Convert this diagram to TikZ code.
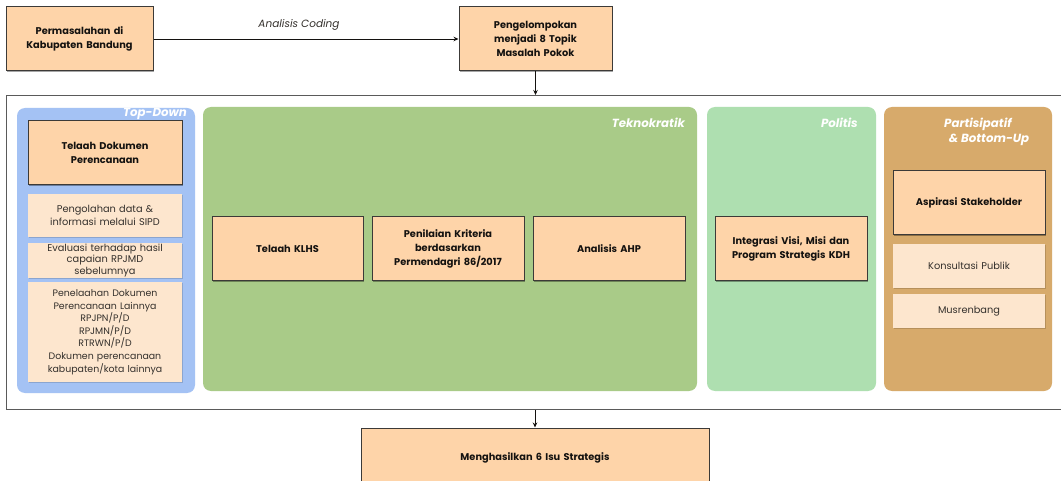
\documentclass[tikz,border=0pt]{standalone}
\usepackage{fontspec}
\setmainfont{Poppins}
\usetikzlibrary{shadows,arrows.meta}

\definecolor{peach}{HTML}{FED4A9}
\definecolor{lightpeach}{HTML}{FDE6CE}
\definecolor{edgegray}{HTML}{3C3A38}
\definecolor{framegray}{HTML}{5A5A5A}
\definecolor{tdblue}{HTML}{A4C2F4}
\definecolor{tkgreen}{HTML}{A9CB88}
\definecolor{plgreen}{HTML}{AEDFB0}
\definecolor{pttan}{HTML}{D7AA6B}
\definecolor{inkdark}{HTML}{141210}
\definecolor{inksoft}{HTML}{34302C}

\tikzset{
  mainbox/.style={draw=edgegray, line width=1pt, fill=peach, align=center,
    inner sep=2pt, text=inkdark,
    font=\fontsize{9.8}{13.8}\selectfont\bfseries,
    drop shadow={shadow xshift=1.3pt, shadow yshift=-1.3pt, fill=black, opacity=0.35}},
  subbox/.style={fill=lightpeach, align=center, inner sep=1pt, text=inksoft,
    font=\fontsize{9.8}{12.8}\selectfont,
    drop shadow={shadow xshift=1pt, shadow yshift=-1pt, fill=black, opacity=0.15}},
  panel/.style={rounded corners=8pt, draw=none},
  paneltitle/.style={text=white, font=\fontsize{11.8}{15}\selectfont\bfseries\itshape, inner sep=0pt},
  flowarrow/.style={-{Stealth[length=5pt,width=4.5pt]}, line width=0.8pt, draw=inkdark},
}

\begin{document}
\begin{tikzpicture}[x=1pt, y=-1pt]
\useasboundingbox (0,0) rectangle (1061,481);
\clip (0,0) rectangle (1061,481);
\fill[white] (0,0) rectangle (1061,481);

% top row
\node[mainbox, minimum width=147pt, minimum height=64pt, text width=140pt] (prob) at (79.5,39)
  {Permasalahan di\\Kabupaten Bandung};
\node[mainbox, minimum width=153pt, minimum height=64pt, text width=146pt] (group) at (535.5,39)
  {Pengelompokan\\menjadi 8 Topik\\Masalah Pokok};
\draw[flowarrow] (prob.east) -- (group.west)
  node[midway, above=5pt, xshift=-7pt, font=\fontsize{10.5}{13}\selectfont\itshape, text=inksoft] (coding) {Analisis Coding};

% enclosing frame (runs off the right edge)
\node[draw=framegray, line width=1.2pt, anchor=north west, minimum width=1080pt, minimum height=314pt, inner sep=0pt] (frame) at (6,95) {};
\draw[flowarrow] (group.south) -- (group.south |- frame.north);

% panels
\fill[panel, tdblue] (17,108) rectangle (195,393);
\fill[panel, tkgreen] (203,107) rectangle (697,391);
\fill[panel, plgreen] (707,107) rectangle (876,391);
\fill[panel, pttan] (884,107) rectangle (1052,391);

\node[paneltitle, anchor=east] (tdtitle) at (187,114) {Top-Down};
\node[paneltitle, anchor=east] (tktitle) at (685,123) {Teknokratik};
\node[paneltitle, anchor=east] (pltitle) at (858,123) {Politis};
\node[paneltitle, anchor=west, align=left] (pttitle) at (944,132) {Partisipatif\\\ \,\&\ Bottom-Up};

% Top-Down column
\node[mainbox, minimum width=154pt, minimum height=64pt, text width=148pt] (telaah) at (105,153)
  {Telaah Dokumen\\Perencanaan};
\node[subbox, minimum width=154pt, minimum height=43pt, text width=150pt] (sipd) at (105,215.5)
  {Pengolahan data \&\\informasi melalui SIPD};
\node[subbox, minimum width=154pt, minimum height=35pt, text width=150pt, font=\fontsize{9.8}{11.5}\selectfont] (evaluasi) at (105,260.5)
  {Evaluasi terhadap hasil\\capaian RPJMD\\sebelumnya};
\node[subbox, minimum width=154pt, minimum height=100pt, text width=150pt, font=\fontsize{9.4}{12.6}\selectfont] (telaahlain) at (105,332)
  {Penelaahan Dokumen\\Perencanaan Lainnya\\RPJPN/P/D\\RPJMN/P/D\\RTRWN/P/D\\Dokumen perencanaan\\kabupaten/kota lainnya};

% Teknokratik column
\node[mainbox, minimum width=151pt, minimum height=64pt, text width=145pt] (klhs) at (287.5,249) {Telaah KLHS};
\node[mainbox, minimum width=152pt, minimum height=64pt, text width=146pt] (kriteria) at (448,249)
  {Penilaian Kriteria\\berdasarkan\\Permendagri 86/2017};
\node[mainbox, minimum width=152pt, minimum height=64pt, text width=146pt] (ahp) at (609,249) {Analisis AHP};

% Politis column
\node[mainbox, minimum width=152pt, minimum height=64pt, text width=148pt] (visi) at (791,249)
  {Integrasi Visi, Misi dan\\Program Strategis KDH};

% Partisipatif column
\node[mainbox, minimum width=152pt, minimum height=64pt, text width=146pt] (aspirasi) at (969,203) {Aspirasi Stakeholder};
\node[subbox, minimum width=152pt, minimum height=44pt, text width=148pt] (konsultasi) at (969,266) {Konsultasi Publik};
\node[subbox, minimum width=152pt, minimum height=34pt, text width=148pt] (musrenbang) at (969,311) {Musrenbang};

% result
\node[mainbox, minimum width=348pt, minimum height=60pt, text width=340pt] (isu) at (535,458)
  {Menghasilkan 6 Isu Strategis};
\draw[flowarrow] (isu.north |- frame.south) -- (isu.north);
\end{tikzpicture}
\end{document}
